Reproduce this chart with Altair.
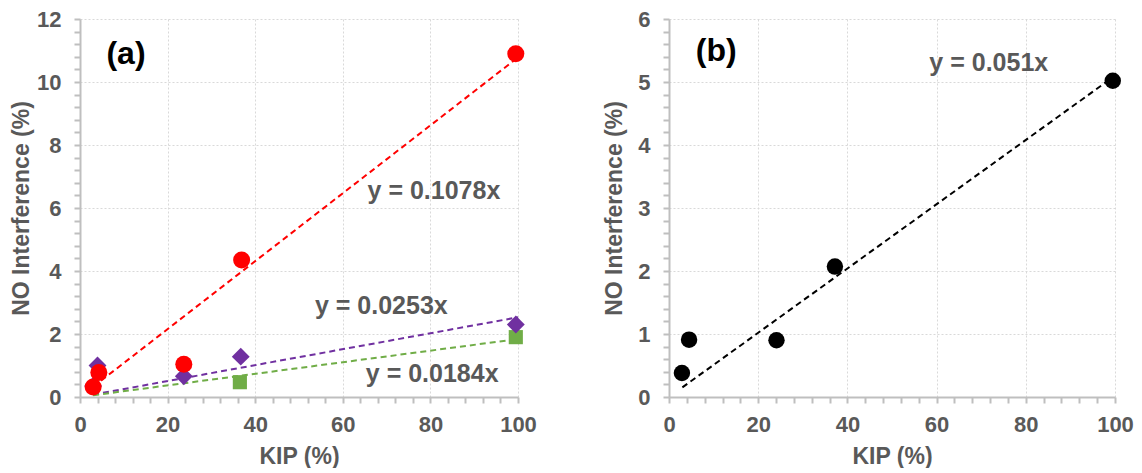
import altair as alt
import pandas as pd

# ---------------- data ----------------
# Panel (a)
a_red_x = [3.0, 4.3, 23.7, 36.9, 99.5]
a_red_y = [0.32, 0.78, 1.04, 4.35, 10.9]
a_purple_x = [3.0, 4.0, 23.7, 36.7, 99.5]
a_purple_y = [0.35, 1.0, 0.66, 1.28, 2.3]
a_green_x = [36.5, 99.5]
a_green_y = [0.47, 1.9]
a_slopes = [0.1078, 0.0253, 0.0184]
a_eq_labels = ["y = 0.1078x", "y = 0.0253x", "y = 0.0184x"]
a_eq_x = [80.8, 68.8, 80.4]
a_eq_y = [6.53, 2.9, 0.72]

# Panel (b)
b_x = [2.9, 4.5, 24.1, 37.2, 99.5]
b_y = [0.38, 0.91, 0.9, 2.07, 5.02]
b_slope = [0.051]
b_eq_labels = ["y = 0.051x"]
b_eq_x = [71.7]
b_eq_y = [5.3]

fit_x = [3, 100]
panel_labels = ["(a)", "(b)"]

# axis ticks
x_major = [0, 20, 40, 60, 80, 100]
x_minor = [i * 4 for i in range(26)]
ya_major = [0, 2, 4, 6, 8, 10, 12]
ya_minor = [round(i * 0.4, 1) for i in range(31)]
yb_major = [0, 1, 2, 3, 4, 5, 6]
yb_minor = [round(i * 0.2, 1) for i in range(31)]

# ---------------- styling ----------------
FONT = "Liberation Sans"
GRAY = "#595959"
AXC = "#BFBFBF"
RED = "#FF0000"
PURPLE = "#7030A0"
GREEN = "#70AD47"


def make_axis(title, minor, major, label_pad, title_pad):
    test = f"indexof({major}, datum.value) >= 0"
    return alt.Axis(
        values=minor,
        tickCount=len(minor) + 10,
        title=title,
        format=".0f",
        labelExpr=f"({test}) ? datum.label : ''",
        labelOverlap=False,
        labelFlush=False,
        labelFont=FONT, labelFontWeight="bold", labelFontSize=22, labelColor=GRAY,
        labelPadding=label_pad,
        titleFont=FONT, titleFontWeight="bold", titleFontSize=23, titleColor=GRAY,
        titlePadding=title_pad,
        domainColor=AXC, domainWidth=2,
        tickColor=AXC, tickWidth=2, tickSize=6,
        grid=True, gridColor="#D9D9D9", gridDash=[2, 2], gridWidth=1,
        gridOpacity={"condition": {"test": test, "value": 1}, "value": 0},
    )


def scatter(xs, ys, shape, color, size):
    df = pd.DataFrame({"x": xs, "y": ys})
    return alt.Chart(df).mark_point(filled=True, shape=shape, color=color,
                                    size=size, opacity=1).encode(x="x:Q", y="y:Q")


def trend(slope, color):
    df = pd.DataFrame({"x": fit_x, "s": [slope] * len(fit_x)})
    return alt.Chart(df).transform_calculate(y="datum.x * datum.s").mark_line(
        color=color, strokeDash=[6, 4], strokeWidth=2
    ).encode(x="x:Q", y="y:Q")


def texts(xs, ys, labels, size, color):
    df = pd.DataFrame({"x": xs, "y": ys, "t": labels})
    return alt.Chart(df).mark_text(font=FONT, fontWeight="bold", fontSize=size,
                                   color=color).encode(x="x:Q", y="y:Q", text="t:N")


# ---------------- panel (a) ----------------
xa = make_axis("KIP (%)", x_minor, x_major, 11, 10)
ya = make_axis("NO Interference (%)", ya_minor, ya_major, 13, 3)

base_a = alt.Chart(pd.DataFrame({"x": [0], "y": [0]})).mark_point(opacity=0).encode(
    x=alt.X("x:Q", scale=alt.Scale(domain=[0, 100], nice=False), axis=xa),
    y=alt.Y("y:Q", scale=alt.Scale(domain=[0, 12], nice=False), axis=ya),
)

panel_a = alt.layer(
    base_a,
    trend(a_slopes[0], RED),
    trend(a_slopes[1], PURPLE),
    trend(a_slopes[2], GREEN),
    scatter(a_green_x, a_green_y, "square", GREEN, 200),
    scatter(a_purple_x, a_purple_y, "diamond", PURPLE, 320),
    scatter(a_red_x, a_red_y, "circle", RED, 290),
    texts(a_eq_x, a_eq_y, a_eq_labels, 25, GRAY),
    texts([10.5], [10.9], [panel_labels[0]], 32, "black"),
).properties(width=438, height=378)

# ---------------- panel (b) ----------------
xb = make_axis("KIP (%)", x_minor, x_major, 11, 10)
yb = make_axis("NO Interference (%)", yb_minor, yb_major, 13, 11)

base_b = alt.Chart(pd.DataFrame({"x": [0], "y": [0]})).mark_point(opacity=0).encode(
    x=alt.X("x:Q", scale=alt.Scale(domain=[0, 100], nice=False), axis=xb),
    y=alt.Y("y:Q", scale=alt.Scale(domain=[0, 6], nice=False), axis=yb),
)

panel_b = alt.layer(
    base_b,
    trend(b_slope[0], "black"),
    scatter(b_x, b_y, "circle", "black", 270),
    texts(b_eq_x, b_eq_y, b_eq_labels, 25, GRAY),
    texts([10.6], [5.5], [panel_labels[1]], 32, "black"),
).properties(width=446, height=378)

chart = alt.hconcat(panel_a, panel_b, spacing=66).properties(
    padding={"left": 2, "top": 0, "right": 0, "bottom": 0}
).configure_view(strokeOpacity=0)

chart.save("out.html", embed_options={"renderer": "svg", "actions": False})
